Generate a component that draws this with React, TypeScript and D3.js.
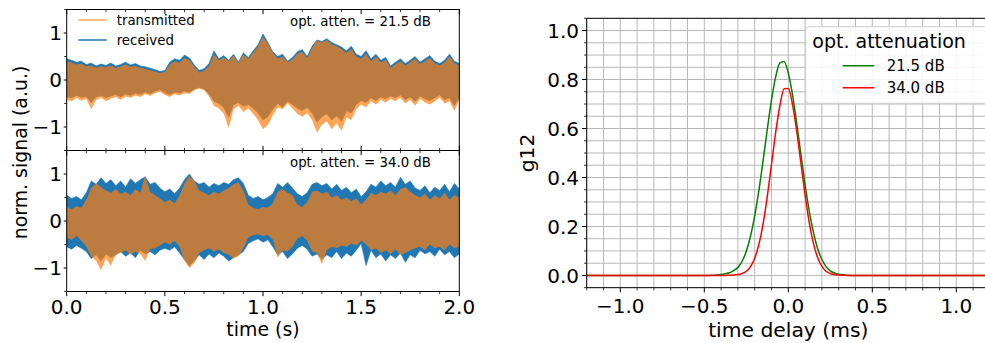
import React from 'react';
import * as d3 from 'd3';

// ---------- data: left panels (envelopes of the dense signals, sampled every 25 ms) ----------
const TIME_STEP = 0.025;
const TIME: number[] = d3.range(81).map((i) => +(i * TIME_STEP).toFixed(3));

// top panel, opt. atten. = 21.5 dB
const TOP_RX_UPPER = [
  0.45, 0.42, 0.38, 0.40, 0.33, 0.36, 0.30, 0.34, 0.31, 0.36,
  0.30, 0.33, 0.38, 0.32, 0.35, 0.30, 0.28, 0.25, 0.22, 0.18,
  0.20, 0.38, 0.45, 0.42, 0.53, 0.47, 0.32, 0.20, 0.24, 0.35,
  0.62, 0.45, 0.52, 0.42, 0.55, 0.38, 0.58, 0.48, 0.62, 0.75,
  0.98, 0.80, 0.60, 0.50, 0.55, 0.40, 0.48, 0.60, 0.65, 0.50,
  0.72, 0.85, 0.82, 0.88, 0.80, 0.75, 0.70, 0.62, 0.72, 0.55,
  0.50, 0.62, 0.45, 0.55, 0.42, 0.48, 0.30, 0.38, 0.45, 0.35,
  0.42, 0.50, 0.38, 0.45, 0.52, 0.40, 0.35, 0.42, 0.55, 0.40,
  0.35,
];
const TOP_RX_LOWER = [
  -0.36, -0.38, -0.33, -0.37, -0.35, -0.48, -0.36, -0.33, -0.38, -0.34,
  -0.31, -0.36, -0.30, -0.33, -0.28, -0.31, -0.26, -0.29, -0.24, -0.21,
  -0.27, -0.31, -0.26, -0.28, -0.24, -0.26, -0.19, -0.16, -0.19, -0.30,
  -0.45, -0.50, -0.58, -0.80, -0.52, -0.48, -0.56, -0.52, -0.60, -0.70,
  -0.85, -0.78, -0.62, -0.50, -0.58, -0.45, -0.52, -0.60, -0.65, -0.58,
  -0.70, -0.90, -0.78, -0.72, -0.85, -0.76, -0.88, -0.66, -0.70, -0.52,
  -0.44, -0.48, -0.38, -0.44, -0.36, -0.40, -0.34, -0.38, -0.32, -0.42,
  -0.36, -0.46, -0.34, -0.40, -0.44, -0.38, -0.32, -0.42, -0.38, -0.55,
  -0.36,
];
const TOP_TX_UPPER = [
  0.40, 0.37, 0.33, 0.35, 0.29, 0.31, 0.26, 0.30, 0.27, 0.31,
  0.26, 0.29, 0.33, 0.28, 0.30, 0.26, 0.24, 0.21, 0.18, 0.15,
  0.17, 0.33, 0.40, 0.37, 0.47, 0.42, 0.28, 0.16, 0.20, 0.30,
  0.55, 0.42, 0.48, 0.40, 0.52, 0.36, 0.55, 0.45, 0.58, 0.72,
  0.92, 0.78, 0.58, 0.46, 0.50, 0.38, 0.44, 0.56, 0.60, 0.47,
  0.68, 0.84, 0.80, 0.85, 0.76, 0.72, 0.66, 0.58, 0.66, 0.50,
  0.45, 0.56, 0.40, 0.50, 0.38, 0.43, 0.26, 0.34, 0.40, 0.31,
  0.38, 0.45, 0.34, 0.40, 0.47, 0.36, 0.31, 0.38, 0.50, 0.36,
  0.31,
];
const TOP_TX_LOWER = [
  -0.42, -0.45, -0.38, -0.44, -0.40, -0.62, -0.42, -0.38, -0.45, -0.40,
  -0.36, -0.42, -0.35, -0.38, -0.33, -0.36, -0.30, -0.34, -0.28, -0.25,
  -0.32, -0.36, -0.30, -0.33, -0.28, -0.30, -0.22, -0.18, -0.22, -0.35,
  -0.55, -0.60, -0.72, -1.02, -0.62, -0.55, -0.68, -0.60, -0.72, -0.85,
  -1.05, -0.95, -0.75, -0.58, -0.62, -0.50, -0.60, -0.72, -0.78, -0.70,
  -0.85, -1.12, -0.95, -0.88, -1.05, -0.92, -1.08, -0.80, -0.85, -0.62,
  -0.52, -0.58, -0.45, -0.52, -0.42, -0.48, -0.40, -0.45, -0.38, -0.50,
  -0.42, -0.55, -0.40, -0.48, -0.52, -0.45, -0.38, -0.50, -0.45, -0.66,
  -0.42,
];

// bottom panel, opt. atten. = 34.0 dB
const BOT_RX_UPPER = [
  0.55, 0.48, 0.52, 0.45, 0.60, 0.85, 0.78, 0.92, 0.80, 0.88,
  0.75, 0.85, 0.72, 0.90, 0.80, 0.88, 0.94, 0.78, 0.82, 0.70,
  0.62, 0.68, 0.58, 0.70, 0.88, 1.00, 0.85, 0.78, 0.82, 0.72,
  0.80, 0.75, 0.82, 0.78, 0.88, 0.92, 0.80, 0.55, 0.48, 0.52,
  0.45, 0.50, 0.58, 0.80, 0.72, 0.82, 0.70, 0.58, 0.52, 0.60,
  0.78, 0.82, 0.75, 0.80, 0.68, 0.78, 0.65, 0.72, 0.60, 0.68,
  0.52, 0.62, 0.78, 0.72, 0.85, 0.75, 0.82, 0.72, 0.93, 0.78,
  0.85, 0.70, 0.65, 0.75, 0.60, 0.72, 0.65, 0.78, 0.62, 0.80,
  0.68,
];
const BOT_RX_LOWER = [
  -0.55, -0.60, -0.52, -0.58, -0.65, -0.80, -0.72, -0.85, -0.70, -0.78,
  -0.72, -0.65, -0.75, -0.68, -0.78, -0.62, -0.70, -0.65, -0.72, -0.62,
  -0.58, -0.62, -0.55, -0.68, -0.82, -0.95, -0.85, -0.72, -0.82, -0.70,
  -0.78, -0.68, -0.75, -0.85, -0.78, -0.72, -0.65, -0.48, -0.42, -0.38,
  -0.45, -0.40, -0.55, -0.72, -0.65, -0.80, -0.70, -0.58, -0.52, -0.60,
  -0.75, -0.70, -0.82, -0.72, -0.78, -0.65, -0.80, -0.68, -0.75, -0.62,
  -0.48, -0.95, -0.62, -0.78, -0.70, -0.85, -0.72, -0.80, -0.68, -0.88,
  -0.72, -0.78, -0.62, -0.70, -0.65, -0.75, -0.60, -0.72, -0.65, -0.78,
  -0.70,
];
const BOT_TX_UPPER = [
  0.30, 0.25, 0.32, 0.28, 0.45, 0.70, 0.80, 0.72, 0.65, 0.60,
  0.68, 0.58, 0.62, 0.55, 0.68, 0.60, 0.97, 0.62, 0.55, 0.48,
  0.40, 0.45, 0.38, 0.55, 0.80, 0.95, 0.85, 0.65, 0.60, 0.55,
  0.62, 0.58, 0.65, 0.70, 0.78, 0.82, 0.65, 0.35, 0.28, 0.25,
  0.30, 0.28, 0.38, 0.62, 0.68, 0.60, 0.55, 0.35, 0.30, 0.40,
  0.62, 0.65, 0.58, 0.62, 0.50, 0.55, 0.45, 0.50, 0.42, 0.48,
  0.35, 0.45, 0.60, 0.55, 0.62, 0.58, 0.65, 0.55, 0.68, 0.72,
  0.62, 0.55, 0.50, 0.58, 0.45, 0.55, 0.48, 0.60, 0.45, 0.55,
  0.50,
];
const BOT_TX_LOWER = [
  -0.35, -0.40, -0.32, -0.42, -0.55, -0.75, -0.85, -1.05, -0.80, -0.95,
  -0.72, -0.68, -0.62, -0.72, -0.65, -0.70, -0.85, -0.60, -0.58, -0.52,
  -0.45, -0.50, -0.42, -0.55, -0.85, -1.00, -0.90, -0.68, -0.62, -0.58,
  -0.65, -0.60, -0.68, -0.72, -0.80, -0.75, -0.58, -0.35, -0.30, -0.28,
  -0.32, -0.30, -0.40, -0.78, -0.62, -0.65, -0.55, -0.38, -0.32, -0.42,
  -0.65, -0.68, -0.92, -0.62, -0.55, -0.58, -0.52, -0.55, -0.48, -0.52,
  -0.42, -0.50, -0.62, -0.58, -0.68, -0.62, -0.70, -0.60, -0.72, -0.68,
  -0.62, -0.58, -0.55, -0.62, -0.50, -0.58, -0.55, -0.62, -0.50, -0.58,
  -0.55,
];

const LEFT_X_TICKS = [0, 0.5, 1.0, 1.5, 2.0];
const LEFT_Y_TICKS = [-1, 0, 1];
const LEFT_Y_MINOR = [-1.5, -0.5, 0.5, 1.5];
const LEFT_LEGEND = ['transmitted', 'received'];
const TOP_NOTE = 'opt. atten. = 21.5 dB';
const BOT_NOTE = 'opt. atten. = 34.0 dB';

// ---------- data: right panel (g12 vs time delay) ----------
const DELAY = [
  -1.2, -0.5, -0.45, -0.425, -0.4, -0.375, -0.35, -0.325, -0.3, -0.275,
  -0.25, -0.225, -0.2, -0.175, -0.15, -0.125, -0.1, -0.075, -0.05, -0.025,
  0, 0.025, 0.05, 0.075, 0.1, 0.125, 0.15, 0.175, 0.2, 0.225,
  0.25, 0.275, 0.3, 0.325, 0.35, 0.4, 0.45, 1.2,
];
const G12_215 = [
  0, 0, 0.001, 0.002, 0.004, 0.007, 0.011, 0.02, 0.033, 0.058,
  0.099, 0.16, 0.243, 0.347, 0.469, 0.597, 0.717, 0.811, 0.868, 0.874,
  0.826, 0.738, 0.622, 0.495, 0.371, 0.262, 0.175, 0.109, 0.065, 0.036,
  0.019, 0.01, 0.005, 0.003, 0.001, 0, 0, 0,
];
const G12_340 = [
  0, 0, 0, 0, 0, 0, 0.001, 0.002, 0.004, 0.008,
  0.017, 0.036, 0.07, 0.127, 0.211, 0.323, 0.453, 0.585, 0.694, 0.762,
  0.763, 0.698, 0.59, 0.459, 0.328, 0.215, 0.13, 0.072, 0.037, 0.017,
  0.008, 0.004, 0.002, 0.001, 0, 0, 0, 0,
];
const RIGHT_X_TICKS = [-1.0, -0.5, 0.0, 0.5, 1.0];
const RIGHT_Y_TICKS = [0, 0.2, 0.4, 0.6, 0.8, 1.0];
const RIGHT_LEGEND_TITLE = 'opt. attenuation';
const RIGHT_LEGEND = ['21.5 dB', '34.0 dB'];

const FONT = '"DejaVu Sans", "Liberation Sans", sans-serif';
const BLUE = '#1f77b4';
const ORANGE = '#ff7f0e';
const MAJ = 4.67;
const MIN = 2.67;

export default function App() {
  const W = 985;
  const H = 343;
  const tickFs = 20;
  const leftLabelFs = 18.9;
  const rightLabelFs = 20.3;

  // left scales
  const xL = d3.scaleLinear().domain([0, 2]).range([66.7, 459.3]);
  const yTop = d3.scaleLinear().domain([-1.5, 1.5]).range([150.5, 9.5]);
  const yBot = d3.scaleLinear().domain([-1.5, 1.5]).range([291.5, 150.5]);
  // right scales
  const xR = d3.scaleLinear().domain([-1.2, 1.2]).range([586.7, 989.9]);
  const yR = d3.scaleLinear().domain([-0.05, 1.05]).range([287.7, 18.3]);

  const band = (y: d3.ScaleLinear<number, number>, lo: number[], hi: number[]) =>
    d3
      .area<number>()
      .x((t) => xL(t))
      .y0((_, i) => y(lo[i]))
      .y1((_, i) => y(hi[i]))(TIME) || '';

  const line = (vals: number[]) =>
    d3
      .line<number>()
      .x((d) => xR(d))
      .y((_, i) => yR(vals[i]))
      .curve(d3.curveMonotoneX)(DELAY) || '';

  const leftMinor = d3
    .range(0, 20.5, 1)
    .map((i) => i / 10)
    .filter((v) => Math.abs(v * 2 - Math.round(v * 2)) > 1e-6);
  const rightXMinor = d3.range(-12, 12.5, 1).map((i) => i / 10);
  const rightYMinor = d3.range(-1, 21.5, 1).map((i) => i / 20);
  const fmtR = d3.format('.1f');
  const fmtL = d3.format('d');

  const [lx0, lx1] = xL.range();
  const [rx0] = xR.range();

  const panel = (
    y: d3.ScaleLinear<number, number>,
    rxU: number[],
    rxL: number[],
    txU: number[],
    txL: number[],
    id: string
  ) => {
    const [yb, yt] = y.range();
    return (
      <g>
        <clipPath id={id}>
          <rect x={lx0} y={yt} width={lx1 - lx0} height={yb - yt} />
        </clipPath>
        <g clipPath={`url(#${id})`}>
          <path d={band(y, rxL, rxU)} fill={BLUE} stroke={BLUE} strokeWidth={0.6} />
          <path d={band(y, txL, txU)} fill={ORANGE} fillOpacity={0.7} stroke="none" />
        </g>
        {LEFT_Y_TICKS.map((v) => (
          <g key={v}>
            <line x1={lx0 - 3} x2={lx0} y1={y(v)} y2={y(v)} stroke="#000" strokeWidth={1} />
            <text x={62} y={y(v)} dy="0.36em" textAnchor="end" fontSize={tickFs}>
              {v < 0 ? '\u2212' + fmtL(-v) : fmtL(v)}
            </text>
          </g>
        ))}
        {LEFT_Y_MINOR.map((v) => (
          <line key={`ym${v}`} x1={lx0 - 2.5} x2={lx0} y1={y(v)} y2={y(v)} stroke="#000" strokeWidth={0.8} />
        ))}
        <rect x={lx0} y={yt} width={lx1 - lx0} height={yb - yt} fill="none" stroke="#000" strokeWidth={1} />
      </g>
    );
  };

  // x ticks of left panels: top (inward), middle (both), bottom (outward)
  const xTickMarks = (yPos: number, dirs: number[]) => (
    <g>
      {LEFT_X_TICKS.map((v) =>
        dirs.map((d) => (
          <line key={`M${yPos}${v}${d}`} x1={xL(v)} x2={xL(v)} y1={yPos} y2={yPos + d * MAJ} stroke="#000" strokeWidth={1} />
        ))
      )}
      {leftMinor.map((v) =>
        dirs.map((d) => (
          <line key={`m${yPos}${v}${d}`} x1={xL(v)} x2={xL(v)} y1={yPos} y2={yPos + d * MIN} stroke="#000" strokeWidth={0.8} />
        ))
      )}
    </g>
  );

  const [ryb, ryt] = yR.range();

  return (
    <svg
      width={W}
      height={H}
      style={{ position: 'absolute', left: 0, top: 0, background: '#fff' }}
      fontFamily={FONT}
    >
      <rect width={W} height={H} fill="#fff" />

      {/* ---------------- left panels ---------------- */}
      {panel(yTop, TOP_RX_UPPER, TOP_RX_LOWER, TOP_TX_UPPER, TOP_TX_LOWER, 'clipTop')}
      {panel(yBot, BOT_RX_UPPER, BOT_RX_LOWER, BOT_TX_UPPER, BOT_TX_LOWER, 'clipBot')}
      {xTickMarks(yTop.range()[1], [1])}
      {xTickMarks(yTop.range()[0], [1, -1])}
      {xTickMarks(yBot.range()[0], [1])}
      {LEFT_X_TICKS.map((v) => (
        <text key={v} x={xL(v)} y={313.5} textAnchor="middle" fontSize={tickFs}>
          {d3.format('.1f')(v)}
        </text>
      ))}
      <text x={xL(1)} y={336} textAnchor="middle" fontSize={leftLabelFs}>
        time (s)
      </text>
      <text transform={`translate(27,${yTop.range()[0] + 2}) rotate(-90)`} textAnchor="middle" fontSize={leftLabelFs}>
        norm. signal (a.u.)
      </text>

      {/* left legend */}
      <line x1={78.3} x2={106.7} y1={20} y2={20} stroke={ORANGE} strokeOpacity={0.7} strokeWidth={1.5} />
      <text x={116.7} y={25} fontSize={13.33}>{LEFT_LEGEND[0]}</text>
      <line x1={78.3} x2={106.7} y1={40} y2={40} stroke={BLUE} strokeWidth={1.5} />
      <text x={116.7} y={45} fontSize={13.33}>{LEFT_LEGEND[1]}</text>
      <text x={290} y={26} fontSize={13.33}>{TOP_NOTE}</text>
      <text x={290} y={167.3} fontSize={13.33}>{BOT_NOTE}</text>

      {/* ---------------- right panel ---------------- */}
      <clipPath id="clipR">
        <rect x={rx0} y={ryt} width={W - rx0} height={ryb - ryt} />
      </clipPath>
      <g clipPath="url(#clipR)">
        {rightXMinor.map((v) => (
          <line key={`gx${v}`} x1={xR(v)} x2={xR(v)} y1={ryt} y2={ryb} stroke="#b8b8b8" strokeWidth={1} />
        ))}
        {rightYMinor.map((v) => (
          <line key={`gy${v}`} x1={rx0} x2={W + 10} y1={yR(v)} y2={yR(v)} stroke="#b8b8b8" strokeWidth={1} />
        ))}
        <path d={line(G12_215)} fill="none" stroke="#008000" strokeWidth={1.5} />
        <path d={line(G12_340)} fill="none" stroke="#ff0000" strokeWidth={1.5} />
      </g>
      {/* spines */}
      <line x1={rx0} x2={rx0} y1={ryt} y2={ryb} stroke="#000" strokeWidth={1} />
      <line x1={rx0} x2={W + 10} y1={ryt} y2={ryt} stroke="#000" strokeWidth={1} />
      <line x1={rx0} x2={W + 10} y1={ryb} y2={ryb} stroke="#000" strokeWidth={1} />
      {/* ticks */}
      {rightXMinor.map((v) => {
        const major = RIGHT_X_TICKS.some((t) => Math.abs(t - v) < 1e-6);
        return (
          <line
            key={`tx${v}`}
            x1={xR(v)}
            x2={xR(v)}
            y1={ryb}
            y2={ryb + (major ? MAJ : MIN)}
            stroke="#000"
            strokeWidth={major ? 1 : 0.8}
          />
        );
      })}
      {rightYMinor.map((v) => {
        const major = RIGHT_Y_TICKS.some((t) => Math.abs(t - v) < 1e-6);
        return (
          <line
            key={`ty${v}`}
            x1={rx0 - (major ? MAJ : MIN)}
            x2={rx0}
            y1={yR(v)}
            y2={yR(v)}
            stroke="#000"
            strokeWidth={major ? 1 : 0.8}
          />
        );
      })}
      {RIGHT_X_TICKS.map((v) => (
        <text key={v} x={xR(v)} y={312.5} textAnchor="middle" fontSize={tickFs}>
          {fmtR(v)}
        </text>
      ))}
      {RIGHT_Y_TICKS.map((v) => (
        <text key={v} x={579} y={yR(v)} dy="0.36em" textAnchor="end" fontSize={tickFs}>
          {fmtR(v)}
        </text>
      ))}
      <text x={xR(0)} y={336.5} textAnchor="middle" fontSize={rightLabelFs}>
        time delay (ms)
      </text>
      <text transform={`translate(534,${(ryt + ryb) / 2}) rotate(-90)`} textAnchor="middle" fontSize={rightLabelFs}>
        g12
      </text>

      {/* right legend */}
      <rect x={805.7} y={26.7} width={200} height={76.6} rx={3} fill="#fff" fillOpacity={0.85} stroke="#cccccc" strokeWidth={1} />
      <text x={812.3} y={48} fontSize={19}>{RIGHT_LEGEND_TITLE}</text>
      <line x1={842.7} x2={874.3} y1={65.7} y2={65.7} stroke="#008000" strokeWidth={1.5} />
      <text x={886.7} y={71.2} fontSize={15}>{RIGHT_LEGEND[0]}</text>
      <line x1={842.7} x2={874.3} y1={87.7} y2={87.7} stroke="#ff0000" strokeWidth={1.5} />
      <text x={886.7} y={93.2} fontSize={15}>{RIGHT_LEGEND[1]}</text>
    </svg>
  );
}
